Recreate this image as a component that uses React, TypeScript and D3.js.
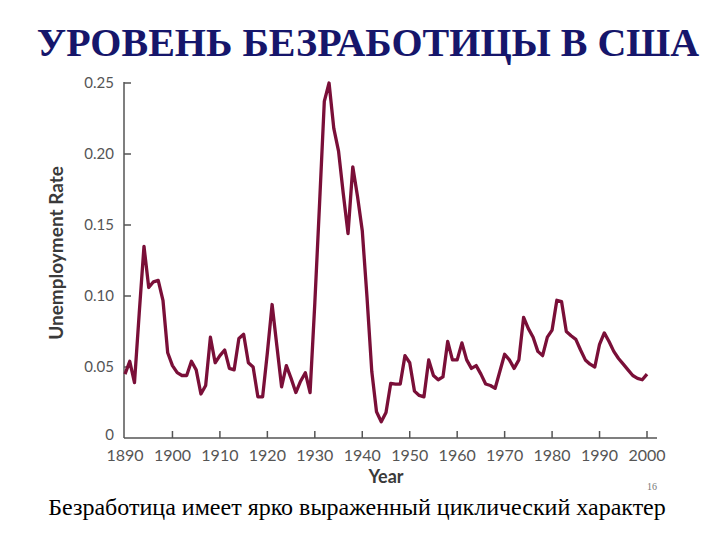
import React from "react";
import * as d3 from "d3";

const startYear = 1890;
const rates: number[] = [
  // 1890-1899
  0.045, 0.054, 0.039, 0.088, 0.135, 0.106, 0.110, 0.111, 0.097, 0.060,
  // 1900-1909
  0.051, 0.046, 0.044, 0.044, 0.054, 0.048, 0.031, 0.037, 0.071, 0.053,
  // 1910-1919
  0.058, 0.062, 0.049, 0.048, 0.070, 0.073, 0.053, 0.050, 0.029, 0.029,
  // 1920-1929
  0.060, 0.094, 0.065, 0.036, 0.051, 0.042, 0.032, 0.040, 0.046, 0.032,
  // 1930-1939
  0.095, 0.165, 0.237, 0.250, 0.218, 0.202, 0.172, 0.144, 0.191, 0.170,
  // 1940-1949
  0.146, 0.099, 0.047, 0.0185, 0.0115, 0.018, 0.0385, 0.038, 0.038, 0.058,
  // 1950-1959
  0.053, 0.033, 0.030, 0.029, 0.055, 0.044, 0.041, 0.043, 0.068, 0.055,
  // 1960-1969
  0.055, 0.067, 0.055, 0.049, 0.051, 0.045, 0.038, 0.037, 0.035, 0.047,
  // 1970-1979
  0.059, 0.055, 0.049, 0.055, 0.085, 0.077, 0.071, 0.061, 0.058, 0.071,
  // 1980-1989
  0.076, 0.097, 0.096, 0.075, 0.072, 0.0695, 0.062, 0.055, 0.052, 0.050,
  // 1990-2000
  0.066, 0.074, 0.068, 0.061, 0.056, 0.052, 0.048, 0.044, 0.042, 0.041, 0.045,
];
const yTicks = [0, 0.05, 0.1, 0.15, 0.2, 0.25];
const yTickLabels = ["0", "0.05", "0.10", "0.15", "0.20", "0.25"];
const xTicks = [1890, 1900, 1910, 1920, 1930, 1940, 1950, 1960, 1970, 1980, 1990, 2000];

const titleText = "УРОВЕНЬ БЕЗРАБОТИЦЫ В США";
const captionText = "Безработица имеет ярко выраженный циклический характер";
const pageNumber = "16";
const yAxisTitle = "Unemployment Rate";
const xAxisTitle = "Year";

export default function App() {
  const x = d3.scaleLinear().domain([1890, 2000]).range([125, 647]);
  const y = d3.scaleLinear().domain([0, 0.25]).range([438, 83]);
  const data = rates.map((v, i) => ({ year: startYear + i, v }));
  const line = d3
    .line<{ year: number; v: number }>()
    .x((d) => x(d.year))
    .y((d) => y(d.v))
    .curve(d3.curveLinear);

  const axisColor = "#555";
  const labelFont = "Lato, 'Open Sans', sans-serif";

  return (
    <svg
      width={720}
      height={540}
      style={{ position: "absolute", left: 0, top: 0, background: "#fff" }}
    >
      <rect x={0} y={0} width={720} height={540} fill="#fff" />
      <text
        x={368}
        y={56}
        textAnchor="middle"
        fontFamily="'Liberation Serif', 'Times New Roman', serif"
        fontWeight="bold"
        fontSize={40}
        fill="#16166b"
      >
        {titleText}
      </text>

      {/* y axis */}
      <line x1={124} x2={124} y1={y(0.25) - 1} y2={y(0)} stroke={axisColor} strokeWidth={1.5} />
      {yTicks.map((t, i) => (
        <g key={t}>
          {t > 0 && (
            <line x1={124} x2={131} y1={y(t)} y2={y(t)} stroke={axisColor} strokeWidth={1.5} />
          )}
          <text
            x={114}
            y={t === 0 ? y(t) - 3 : y(t)}
            dy="0.35em"
            textAnchor="end"
            fontFamily={labelFont}
            fontSize={15}
            fill="#555"
          >
            {yTickLabels[i]}
          </text>
        </g>
      ))}
      <text
        transform={`translate(63,253) rotate(-90)`}
        textAnchor="middle"
        fontFamily={labelFont}
        fontWeight="bold"
        fontSize={19}
        fill="#3a3a3a"
      >
        {yAxisTitle}
      </text>

      {/* x axis */}
      <line x1={124} x2={657} y1={y(0)} y2={y(0)} stroke={axisColor} strokeWidth={1.5} />
      {xTicks.map((t) => (
        <g key={t}>
          {t > 1890 && (
            <line x1={x(t)} x2={x(t)} y1={y(0)} y2={y(0) - 7} stroke={axisColor} strokeWidth={1.5} />
          )}
          <text
            x={x(t)}
            y={455}
            dy="0.35em"
            textAnchor="middle"
            fontFamily={labelFont}
            fontSize={16}
            fill="#555"
          >
            {t}
          </text>
        </g>
      ))}
      <text
        x={386}
        y={483}
        textAnchor="middle"
        fontFamily={labelFont}
        fontWeight="bold"
        fontSize={18}
        fill="#3a3a3a"
      >
        {xAxisTitle}
      </text>

      <path d={line(data) || ""} fill="none" stroke="#7a0f38" strokeWidth={3.3} strokeLinejoin="round" />

      <text
        x={357}
        y={515}
        textAnchor="middle"
        fontFamily="'Liberation Serif', 'Times New Roman', serif"
        fontSize={24}
        fill="#000"
      >
        {captionText}
      </text>
      <text
        x={652}
        y={490}
        textAnchor="middle"
        fontFamily="'Liberation Serif', 'Times New Roman', serif"
        fontSize={10}
        fill="#777"
      >
        {pageNumber}
      </text>
    </svg>
  );
}
